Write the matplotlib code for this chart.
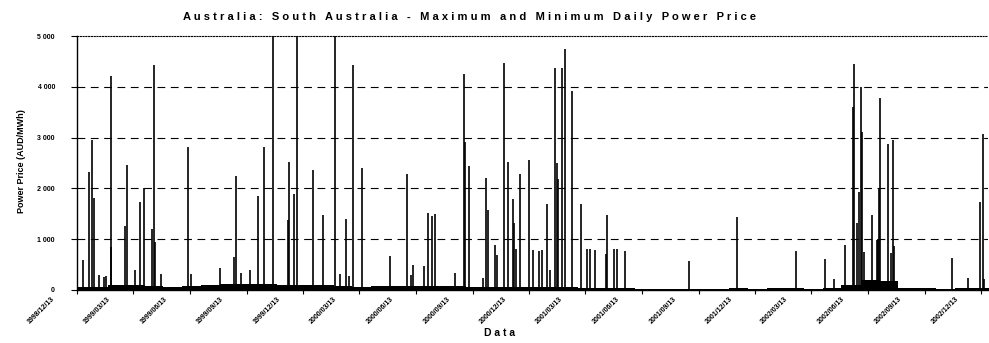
import pandas as pd
import matplotlib
matplotlib.use('Agg')
import matplotlib.pyplot as plt
import matplotlib.transforms as mtransforms

# Price spikes (daily maximum), AUD/MWh
spike_dates = [
    '1998-12-22', '1999-01-01', '1999-01-06', '1999-01-09', '1999-01-18', '1999-01-26',
    '1999-01-29', '1999-02-05', '1999-02-06', '1999-03-01', '1999-03-04', '1999-03-17',
    '1999-03-24', '1999-03-31', '1999-04-13', '1999-04-16', '1999-04-18', '1999-04-27',
    '1999-06-10', '1999-06-15', '1999-08-01', '1999-08-23', '1999-08-26', '1999-09-03',
    '1999-09-18', '1999-10-02', '1999-10-11', '1999-10-25', '1999-11-18', '1999-11-21',
    '1999-11-29', '1999-12-03', '1999-12-29', '2000-01-14', '2000-02-02', '2000-02-10',
    '2000-02-20', '2000-02-25', '2000-03-03', '2000-03-17', '2000-05-02', '2000-05-29',
    '2000-06-05', '2000-06-07', '2000-06-26', '2000-07-02', '2000-07-09', '2000-07-13',
    '2000-08-15', '2000-08-29', '2000-08-31', '2000-09-06', '2000-09-29', '2000-10-04',
    '2000-10-07', '2000-10-19', '2000-10-22', '2000-11-02', '2000-11-09', '2000-11-17',
    '2000-11-18', '2000-11-22', '2000-11-27', '2000-12-12', '2000-12-19', '2000-12-28',
    '2001-01-02', '2001-01-10', '2001-01-15', '2001-01-23', '2001-01-26', '2001-01-28',
    '2001-02-04', '2001-02-08', '2001-02-20', '2001-03-06', '2001-03-16', '2001-03-21',
    '2001-03-29', '2001-04-15', '2001-04-18', '2001-04-29', '2001-05-03', '2001-05-17',
    '2001-08-27', '2001-11-13', '2002-02-17', '2002-04-05', '2002-04-19', '2002-05-07',
    '2002-05-20', '2002-05-21', '2002-05-27', '2002-05-30', '2002-06-01', '2002-06-03',
    '2002-06-06', '2002-06-19', '2002-06-27', '2002-06-29', '2002-07-01', '2002-07-03',
    '2002-07-16', '2002-07-21', '2002-07-23', '2002-07-25', '2002-10-26', '2002-11-22',
    '2002-12-11', '2002-12-16', '2002-12-18',
]
spike_prices = [
    592, 2323, 2948, 1816, 283, 250,
    263, 4211, 842, 1250, 2454, 395,
    1724, 2013, 1198, 4435, 941, 316,
    2816, 316, 421, 645, 2244, 329,
    395, 1856, 2816, 5000, 1369, 2527,
    1882, 5000, 2369, 1467, 5000, 303,
    1395, 270, 4422, 2408, 671, 2277,
    283, 493, 474, 1507, 1454, 1494,
    336, 4257, 2922, 2448, 237, 2198,
    1566, 875, 678, 4461, 2514, 1783,
    1316, 809, 2277, 2553, 790, 757,
    790, 1691, 395, 4363, 2500, 2178,
    4363, 4751, 3915, 1691, 809, 809,
    790, 711, 1480, 809, 796, 770,
    566, 1428, 757, 612, 217, 875,
    3593, 4448, 1323, 1921, 3987, 3112,
    743, 1480, 987, 1007, 1987, 3777,
    2875, 724, 2961, 855, 632, 237,
    1724, 3079, 217,
]

# Typical daily maximum level per month (Dec 1998 - Dec 2002)
base_months = pd.date_range('1998-12-01', '2002-12-01', freq='MS')
base_prices = [
    50, 60, 95, 95, 80, 50, 75, 90, 115, 110, 110, 100,
    95, 90, 70, 60, 70, 80, 80, 75, 70, 55, 60, 60,
    50, 55, 50, 35, 30, 30, 25, 20, 20, 15, 25, 30,
    25, 30, 35, 25, 35, 90, 200, 180, 30, 30, 25, 30,
    40,
]

tick_dates = pd.date_range('1998-12-01', periods=17, freq='3MS') + pd.Timedelta(days=12)
y_ticks = [0, 1000, 2000, 3000, 4000, 5000]

plt.rcParams['font.family'] = ['Liberation Sans', 'DejaVu Sans']
plt.rcParams['font.weight'] = 'bold'

fig = plt.figure(figsize=(9.89, 3.43), dpi=100)
ax = fig.add_axes([0.078, 0.155, 0.921, 0.74])

# Baseline level
bx = list(base_months) + [pd.Timestamp('2002-12-31')]
by = base_prices + [base_prices[-1]]
ax.fill_between(bx, 0, by, step='post', color='black', lw=0)

# Spikes
ax.vlines(pd.to_datetime(spike_dates), 0, spike_prices, color='black', lw=1.2)

ax.set_xlim(pd.Timestamp('1998-12-13'), pd.Timestamp('2002-12-24'))
ax.set_ylim(0, 5000)

# Gridlines
for v in y_ticks[1:-1]:
    ax.axhline(v, color='black', lw=0.8, ls=(0, (7, 5)), zorder=0)
ax.spines['top'].set_linestyle((0, (1, 1.5)))
ax.spines['top'].set_linewidth(0.8)
ax.spines['right'].set_visible(False)
ax.spines['left'].set_linewidth(1.0)
ax.spines['bottom'].set_linewidth(1.0)

ax.set_yticks(y_ticks)
ax.set_yticklabels(['{:,}'.format(v).replace(',', ' ') for v in y_ticks], fontsize=5)
ax.tick_params(axis='y', length=4, width=0.8, pad=12)

ax.set_xticks(tick_dates)
ax.set_xticklabels([d.strftime('%Y/%m/%d') for d in tick_dates], fontsize=5,
                   rotation=45, ha='right', va='center', rotation_mode='anchor')
ax.tick_params(axis='x', length=3, width=0.8, pad=3)
offset = mtransforms.ScaledTranslation(-0.24, 0, fig.dpi_scale_trans)
for lbl in ax.get_xticklabels():
    lbl.set_transform(lbl.get_transform() + offset)

def spaced(s):
    return '   '.join(' '.join(w) for w in s.split(' '))

fig.text(0.475, 0.95, spaced('Australia: South Australia - Maximum and Minimum Daily Power Price'),
         ha='center', va='center', fontsize=8, fontweight='bold')
fig.text(0.505, 0.03, spaced('Data'), ha='center', va='center', fontsize=7.5, fontweight='bold')
fig.text(0.022, 0.53, 'Power Price (AUD/MWh)', ha='center', va='center', rotation=90,
         fontsize=6.5, fontweight='bold')

plt.savefig('out.png', dpi=100)
